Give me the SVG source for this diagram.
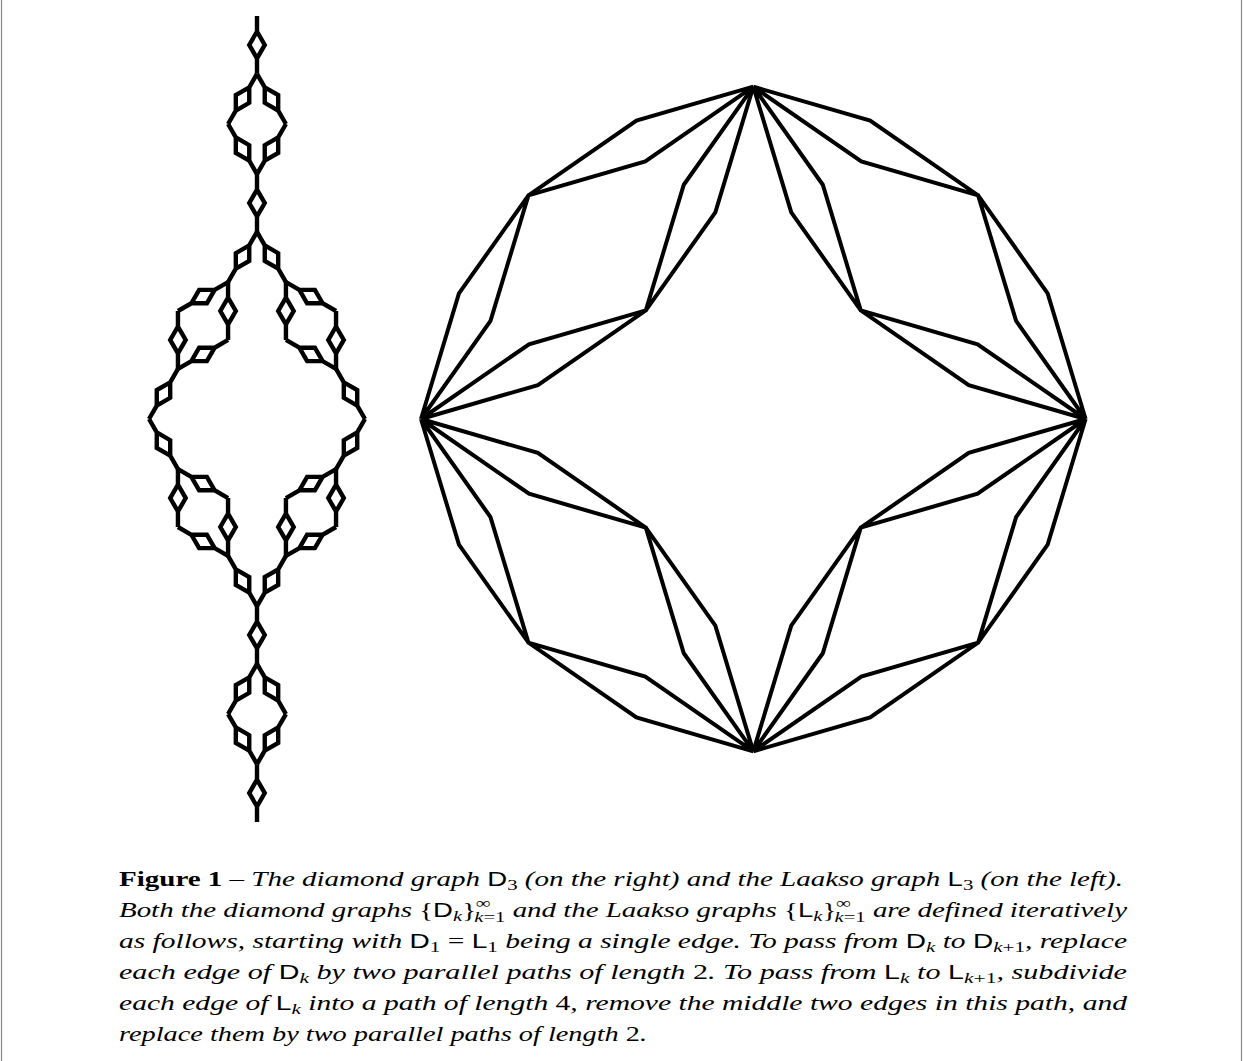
<svg xmlns="http://www.w3.org/2000/svg" width="1243" height="1061" viewBox="0 0 1243 1061">
<style>
.edge{fill:none;stroke:#000;stroke-linejoin:miter;stroke-linecap:butt}
.lk{stroke-width:4.4}
.dk{stroke-width:4}
text{font-family:"Liberation Serif","Times New Roman",serif;font-size:21px;fill:#000}
.i{font-style:italic}
.b{font-weight:bold}
.sf{font-family:"Liberation Sans",Arial,sans-serif;font-style:normal;font-size:20px}
.s{font-size:15px}
.frame{stroke:#888;stroke-width:1.2;fill:none}
</style>
<defs>
<g id="l2"><path class="edge lk" d="M0,0V15.506L-7.753,28.934L0,42.363V57.869M0,15.506L7.753,28.934L0,42.363"/></g>
<g id="l3">
<use href="#l2"/>
<use href="#l2" transform="translate(0,57.869) rotate(30)"/>
<use href="#l2" transform="translate(0,57.869) rotate(-30)"/>
<use href="#l2" transform="translate(-28.934,107.985) rotate(-30)"/>
<use href="#l2" transform="translate(28.934,107.985) rotate(30)"/>
<use href="#l2" transform="translate(0,158.101)"/>
</g>
<g id="l4">
<use href="#l3"/>
<use href="#l3" transform="translate(0,215.970) rotate(30)"/>
<use href="#l3" transform="translate(0,215.970) rotate(-30)"/>
<use href="#l3" transform="translate(-107.985,403.005) rotate(-30)"/>
<use href="#l3" transform="translate(107.985,403.005) rotate(30)"/>
<use href="#l3" transform="translate(0,590.041)"/>
</g>
<g id="dq"><path class="edge dk" d="M753.3,86.7L636.45,120.6L528.45,195.35L458.95,293.4L421,419M753.3,86.7L645.3,161.45L528.45,195.35L490.5,320.95L421,419M753.3,86.7L683.8,184.75L645.85,310.35L529,344.25L421,419M753.3,86.7L715.35,212.3L645.85,310.35L537.85,385.1L421,419"/></g>
</defs>
<rect x="0" y="0" width="1243" height="1061" fill="#fff"/>
<path class="frame" d="M1.5,0V1061M1241.5,0V1061"/>
<g id="laakso-graph">
<use href="#l4" transform="translate(257,16)"/>
</g>
<g id="diamond-graph">
<use href="#dq"/>
<use href="#dq" transform="matrix(-1 0 0 1 1506.6 0)"/>
<use href="#dq" transform="matrix(1 0 0 -1 0 838)"/>
<use href="#dq" transform="matrix(-1 0 0 -1 1506.6 838)"/>
</g>
<g id="caption">
<text x="119" y="886" textLength="1004" lengthAdjust="spacingAndGlyphs"><tspan class="b">Figure 1</tspan> – <tspan class="i">The diamond graph </tspan><tspan class="sf">D</tspan><tspan class="s" dy="4">3</tspan><tspan class="i" dy="-4"> (on the right) and the Laakso graph </tspan><tspan class="sf">L</tspan><tspan class="s" dy="4">3</tspan><tspan class="i" dy="-4"> (on the left).</tspan></text>
<text x="119" y="917" textLength="1008" lengthAdjust="spacingAndGlyphs"><tspan class="i">Both the diamond graphs </tspan>{<tspan class="sf">D</tspan><tspan class="s i" dy="4">k</tspan><tspan dy="-4">}</tspan><tspan class="s" dy="-9">∞</tspan><tspan class="s i" dx="-12" dy="14">k</tspan><tspan class="s">=1</tspan><tspan class="i" dy="-5"> and the Laakso graphs </tspan>{<tspan class="sf">L</tspan><tspan class="s i" dy="4">k</tspan><tspan dy="-4">}</tspan><tspan class="s" dy="-9">∞</tspan><tspan class="s i" dx="-12" dy="14">k</tspan><tspan class="s">=1</tspan><tspan class="i" dy="-5"> are defined iteratively</tspan></text>
<text x="119" y="948" textLength="1008" lengthAdjust="spacingAndGlyphs"><tspan class="i">as follows, starting with </tspan><tspan class="sf">D</tspan><tspan class="s" dy="4">1</tspan><tspan dy="-4"> = </tspan><tspan class="sf">L</tspan><tspan class="s" dy="4">1</tspan><tspan class="i" dy="-4"> being a single edge. To pass from </tspan><tspan class="sf">D</tspan><tspan class="s i" dy="4">k</tspan><tspan class="i" dy="-4"> to </tspan><tspan class="sf">D</tspan><tspan class="s i" dy="4">k</tspan><tspan class="s">+1</tspan><tspan class="i" dy="-4">, replace</tspan></text>
<text x="119" y="979" textLength="1008" lengthAdjust="spacingAndGlyphs"><tspan class="i">each edge of </tspan><tspan class="sf">D</tspan><tspan class="s i" dy="4">k</tspan><tspan class="i" dy="-4"> by two parallel paths of length </tspan>2<tspan class="i">. To pass from </tspan><tspan class="sf">L</tspan><tspan class="s i" dy="4">k</tspan><tspan class="i" dy="-4"> to </tspan><tspan class="sf">L</tspan><tspan class="s i" dy="4">k</tspan><tspan class="s">+1</tspan><tspan class="i" dy="-4">, subdivide</tspan></text>
<text x="119" y="1010" textLength="1008" lengthAdjust="spacingAndGlyphs"><tspan class="i">each edge of </tspan><tspan class="sf">L</tspan><tspan class="s i" dy="4">k</tspan><tspan class="i" dy="-4"> into a path of length </tspan>4<tspan class="i">, remove the middle two edges in this path, and</tspan></text>
<text x="119" y="1041" textLength="528" lengthAdjust="spacingAndGlyphs"><tspan class="i">replace them by two parallel paths of length </tspan>2<tspan class="i">.</tspan></text>
</g>
</svg>
